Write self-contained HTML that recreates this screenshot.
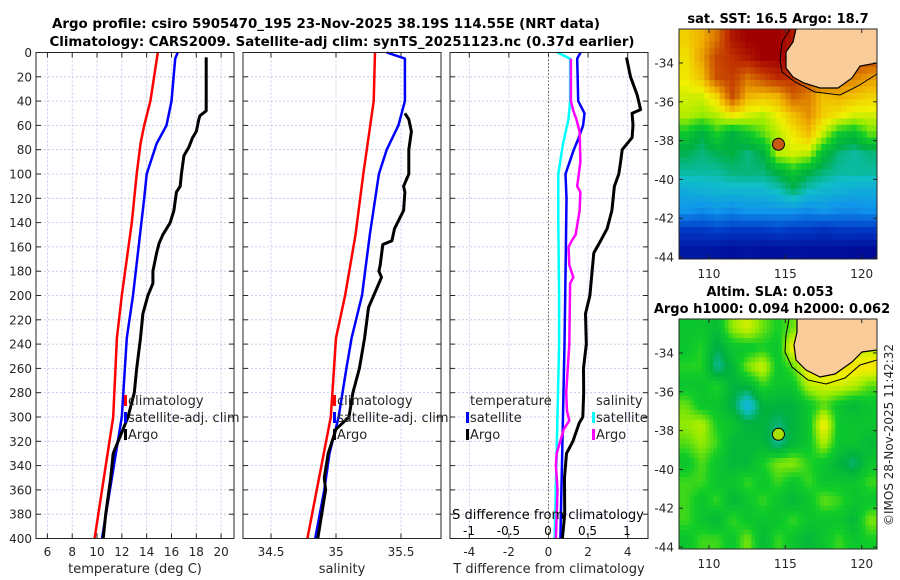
<!DOCTYPE html>
<html><head><meta charset="utf-8"><style>
html,body{margin:0;padding:0;background:#fff;}
svg{display:block;font-family:"DejaVu Sans","Liberation Sans",sans-serif;}
</style></head><body>
<svg id="fig" width="900" height="580" viewBox="0 0 900 580" xmlns="http://www.w3.org/2000/svg">
<text x="326" y="28" font-size="13" font-weight="bold" text-anchor="middle" textLength="548" lengthAdjust="spacingAndGlyphs">Argo profile: csiro 5905470_195 23-Nov-2025 38.19S 114.55E (NRT data)</text>
<text x="342" y="46" font-size="13" font-weight="bold" text-anchor="middle" textLength="585" lengthAdjust="spacingAndGlyphs">Climatology: CARS2009. Satellite-adj clim: synTS_20251123.nc (0.37d earlier)</text>
<text x="778" y="23" font-size="13" font-weight="bold" text-anchor="middle">sat. SST: 16.5 Argo: 18.7</text>
<text x="770" y="296" font-size="13" font-weight="bold" text-anchor="middle">Altim. SLA: 0.053</text>
<text x="772" y="313" font-size="13" font-weight="bold" text-anchor="middle">Argo h1000: 0.094 h2000: 0.062</text>
<text transform="translate(893,435) rotate(-90)" font-size="12" fill="#262626" text-anchor="middle">©IMOS 28-Nov-2025 11:42:32</text>
<g id="g"></g>
</svg>
<script>
// ---------- data ----------
const depthTicks=[0,20,40,60,80,100,120,140,160,180,200,220,240,260,280,300,320,340,360,380,400];
const tempTicks=[6,8,10,12,14,16,18,20];
const salTicks=[34.5,35,35.5];
const tdiffTicks=[-4,-2,0,2,4];
const sdiffTicks=[-1,-0.5,0,0.5,1];
const sdiffTickLabels=["-1","-0.5","0","0.5","1"];

const climTDepth=[0,20,40,60,75,100,140,200,235,300,400];
const climT=[14.9,14.6,14.3,13.8,13.5,13.2,12.8,12.0,11.6,11.3,9.8];
const satTDepth=[0,5,40,50,60,75,100,120,200,235,300,400];
const satT=[16.5,16.3,16.0,15.8,15.6,14.8,14.0,13.8,12.9,12.4,12.0,10.4];
const argoTDepth=[4,48,52,55,65,70,78,85,100,110,115,130,140,150,157,165,180,190,200,215,235,260,280,300,310,330,350,380,400];
const argoT=[18.8,18.8,18.3,18.2,18.0,17.7,17.4,17.0,16.8,16.7,16.4,16.2,15.9,15.3,15.0,14.8,14.5,14.5,14.1,13.7,13.5,13.2,13.0,12.5,12.1,11.3,11.1,10.7,10.5];

const climSDepth=[0,40,100,150,200,235,300,400];
const climS=[35.30,35.29,35.21,35.15,35.07,35.0,34.96,34.78];
const satSDepth=[0,5,40,60,80,100,150,200,235,260,300,330,360,400];
const satS=[35.39,35.53,35.53,35.48,35.39,35.33,35.26,35.20,35.12,35.08,35.02,34.95,34.91,34.84];
const argoSDepth=[50,55,65,80,100,110,115,130,145,155,158,175,180,185,200,210,235,260,280,300,310,330,350,360,380,400];
const argoS=[35.53,35.56,35.58,35.56,35.56,35.52,35.53,35.52,35.45,35.43,35.36,35.34,35.33,35.35,35.29,35.25,35.22,35.18,35.13,35.10,35.0,34.94,34.91,34.92,34.89,34.86];

const satSdDepth=[0,5,40,55,75,100,140,200,240,400];
const satSd=[0.12,0.28,0.28,0.26,0.19,0.13,0.13,0.14,0.14,0.085];
const satTdDepth=[0,5,40,50,60,70,80,100,120,160,240,400];
const satTd=[1.62,1.45,1.5,1.82,1.75,1.53,1.28,0.86,0.91,0.88,0.81,0.6];
const argoSdDepth=[5,40,48,55,65,90,110,115,130,150,155,160,175,185,190,240,280,295,303,310,330,340,360,400];
const argoSd=[0.29,0.29,0.32,0.36,0.40,0.41,0.37,0.41,0.40,0.35,0.30,0.26,0.27,0.32,0.28,0.27,0.23,0.24,0.27,0.20,0.11,0.10,0.12,0.10];
const argoTdDepth=[4,20,35,47,50,60,70,80,90,100,110,130,145,155,165,180,200,215,240,260,280,300,305,320,330,350,380,400];
const argoTd=[3.94,4.14,4.48,4.65,4.22,4.27,4.22,3.72,3.64,3.55,3.33,3.2,2.96,2.63,2.29,2.2,2.09,1.87,1.91,1.77,1.78,1.73,1.55,1.23,0.91,0.81,0.82,0.7];

const lonTicks=[110,115,120];
const latTicks=[-34,-36,-38,-40,-42,-44];
const sstGrid=[
[.68,.72,.8,.95,1,1,1,.95,.9,.9,.9,.9,.9],
[.66,.74,.86,.9,.95,1,1,.95,.9,.9,.9,.9,.85],
[.65,.7,.85,.88,.8,.86,.92,.9,.85,.85,.8,.78,.75],
[.62,.62,.68,.85,.72,.7,.72,.82,.78,.7,.72,.7,.68],
[.6,.58,.6,.65,.62,.6,.64,.7,.76,.68,.65,.62,.62],
[.5,.45,.52,.45,.5,.55,.6,.65,.7,.6,.5,.48,.55],
[.44,.42,.44,.45,.42,.45,.6,.62,.6,.48,.42,.4,.42],
[.4,.4,.4,.42,.42,.42,.45,.5,.45,.42,.4,.4,.4],
[.34,.35,.36,.36,.36,.36,.38,.42,.38,.36,.35,.34,.34],
[.3,.28,.3,.28,.3,.3,.3,.3,.28,.3,.28,.28,.29],
[.14,.14,.16,.14,.14,.14,.16,.14,.14,.12,.14,.14,.14],
[.06,.06,.05,.04,.05,.04,.04,.05,.04,.04,.04,.03,.03]];
const slaGrid=[
[.5,.5,.48,.58,.62,.56,.52,.56,.6,.6,.6,.6,.6],
[.5,.53,.44,.5,.5,.52,.5,.66,.6,.6,.6,.6,.6],
[.53,.53,.4,.47,.57,.62,.5,.55,.66,.66,.66,.66,.66],
[.5,.5,.53,.46,.46,.53,.5,.5,.6,.62,.62,.6,.55],
[.56,.5,.5,.45,.34,.46,.46,.46,.5,.55,.5,.47,.5],
[.58,.6,.52,.5,.46,.46,.42,.46,.5,.66,.5,.5,.5],
[.55,.58,.54,.47,.47,.47,.4,.47,.5,.6,.5,.5,.47],
[.5,.55,.5,.47,.47,.52,.57,.58,.53,.5,.46,.42,.5],
[.54,.54,.5,.5,.54,.5,.54,.5,.54,.5,.5,.5,.54],
[.54,.5,.54,.47,.5,.54,.5,.47,.5,.56,.54,.5,.5],
[.54,.5,.47,.54,.5,.5,.5,.54,.5,.5,.5,.47,.57],
[.5,.54,.54,.5,.57,.47,.54,.5,.47,.5,.54,.5,.52]];
const argoLon=114.55, argoLat=-38.19;

// ---------- helpers ----------
const NS="http://www.w3.org/2000/svg";
const G=document.getElementById('g');
function mk(tag,attrs,parent){const e=document.createElementNS(NS,tag);for(const k in attrs)e.setAttribute(k,attrs[k]);(parent||G).appendChild(e);return e;}
const Y0=52.5,Y1=538.5;
const yD=d=>Y0+(d/400)*(Y1-Y0);
function lin(d0,d1,r0,r1){return v=>r0+(v-d0)/(d1-d0)*(r1-r0);}

function panel(name,x0,x1,xs,ticks,tickLabels,xlabel,showY){
  const g=mk('g',{});
  
  
  ticks.forEach(t=>{const l=mk('line',{x1:xs(t),x2:xs(t),y1:Y0,y2:Y1,stroke:'#b8c0e8','stroke-width':0.8,'stroke-dasharray':'2,2'},g);
    });
  depthTicks.forEach(d=>{if(d===0||d===400)return;const l=mk('line',{x1:x0,x2:x1,y1:yD(d),y2:yD(d),stroke:'#b8c0e8','stroke-width':0.8,'stroke-dasharray':'2,2'},g);
    });
  ticks.forEach((t,i)=>{
    mk('line',{x1:xs(t),x2:xs(t),y1:Y1,y2:Y1-5,stroke:'#262626','stroke-width':1},g);
    mk('line',{x1:xs(t),x2:xs(t),y1:Y0,y2:Y0+5,stroke:'#262626','stroke-width':1},g);
    const tx=mk('text',{x:xs(t),y:556,'font-size':12,fill:'#262626','text-anchor':'middle'},g);
    
    tx.textContent=tickLabels?tickLabels[i]:String(t);
  });
  depthTicks.forEach(d=>{
    mk('line',{x1:x0,x2:x0+5,y1:yD(d),y2:yD(d),stroke:'#262626','stroke-width':1},g);
    mk('line',{x1:x1,x2:x1-5,y1:yD(d),y2:yD(d),stroke:'#262626','stroke-width':1},g);
    if(showY){const tx=mk('text',{x:x0-4,y:yD(d)+4.5,'font-size':12,fill:'#262626','text-anchor':'end'},g);
      tx.textContent=d;}
  });
  const xl=mk('text',{x:(x0+x1)/2,y:573,'font-size':13,fill:'#262626','text-anchor':'middle'},g);
  xl.textContent=xlabel;
  return g;
}
function frame(x0,x1,g){const r=mk('rect',{x:x0,y:Y0,width:x1-x0,height:Y1-Y0,fill:'none',stroke:'#262626','stroke-width':1},g);
  }
function series(g,name,vals,depths,xs,color,w){
  const pts=vals.map((v,i)=>xs(v).toFixed(1)+','+yD(depths[i]).toFixed(1)).join(' ');
  const p=mk('polyline',{points:pts,fill:'none',stroke:color,'stroke-width':w,'stroke-linejoin':'round'},g);
  
}
function legend(g,name,x,y,color,label){
  const m=mk('rect',{x:x-4,y:y-10,width:3,height:11,fill:color},g);
  
  const t=mk('text',{x:x,y:y,'font-size':13,fill:'#262626'},g);
  t.textContent=label;
}

// panel 1: temperature
const xT=lin(5,21,35,233.5);
const p1=panel('temperature-panel',36,234,xT,tempTicks,null,'temperature (deg C)',true);
series(p1,'climatology-temperature-line',climT,climTDepth,xT,'#ff0000',2.5);
series(p1,'satellite-temperature-line',satT,satTDepth,xT,'#0000ff',2.5);
series(p1,'argo-temperature-line',argoT,argoTDepth,xT,'#000000',3);
frame(36,234,p1);
legend(p1,'legend-climatology',128,405,'#ff0000','climatology');
legend(p1,'legend-satellite-adj',128,422,'#0000ff','satellite-adj. clim');
legend(p1,'legend-argo',128,439,'#000000','Argo');

// panel 2: salinity
const xS=lin(34.5,35.5,271,401);
const p2=panel('salinity-panel',243,441,xS,salTicks,null,'salinity',false);
series(p2,'climatology-salinity-line',climS,climSDepth,xS,'#ff0000',2.5);
series(p2,'satellite-salinity-line',satS,satSDepth,xS,'#0000ff',2.5);
series(p2,'argo-salinity-line',argoS,argoSDepth,xS,'#000000',3);
frame(243,441,p2);
legend(p2,'legend-climatology-s',337,405,'#ff0000','climatology');
legend(p2,'legend-satellite-adj-s',337,422,'#0000ff','satellite-adj. clim');
legend(p2,'legend-argo-s',337,439,'#000000','Argo');

// panel 3: differences
const xTd=lin(-5,5,449.5,647.5);
const xSd=lin(-1,1,469,627);
const p3=panel('difference-panel',450,648,xTd,tdiffTicks,null,'T difference from climatology',false);
mk('line',{x1:xTd(0),x2:xTd(0),y1:Y0,y2:Y1,stroke:'#6b6b3a','stroke-width':1,'stroke-dasharray':'1.5,2'},p3);
series(p3,'satellite-s-diff-line',satSd,satSdDepth,xSd,'#00ffff',2.5);
series(p3,'satellite-t-diff-line',satTd,satTdDepth,xTd,'#0000ff',2.5);
series(p3,'argo-s-diff-line',argoSd,argoSdDepth,xSd,'#ff00ff',2.5);
series(p3,'argo-t-diff-line',argoTd,argoTdDepth,xTd,'#000000',3);
frame(450,648,p3);
sdiffTicks.forEach((t,i)=>{const tx=mk('text',{x:xSd(t),y:535,'font-size':12,fill:'#000','text-anchor':'middle'},p3);
  tx.textContent=sdiffTickLabels[i];});
{const tx=mk('text',{x:548,y:519,'font-size':13,fill:'#000','text-anchor':'middle'},p3);
 tx.textContent='S difference from climatology';}
{const tx=mk('text',{x:470,y:405,'font-size':13,fill:'#262626'},p3);
 tx.textContent='temperature';}
{const tx=mk('text',{x:596,y:405,'font-size':13,fill:'#262626'},p3);
 tx.textContent='salinity';}
legend(p3,'legend-t-satellite',470,422,'#0000ff','satellite');
legend(p3,'legend-t-argo',470,439,'#000000','Argo');
legend(p3,'legend-s-satellite',596,422,'#00ffff','satellite');
legend(p3,'legend-s-argo',596,439,'#ff00ff','Argo');

// ---------- maps ----------
const stops=[[0,[0,0,140]],[.15,[0,60,200]],[.3,[16,150,235]],[.38,[16,190,200]],[.45,[0,176,64]],[.52,[16,205,40]],[.58,[150,235,0]],[.64,[240,240,0]],[.72,[240,176,0]],[.82,[208,96,0]],[.9,[192,48,0]],[1,[160,0,0]]];
function cmap(v){v=Math.max(0,Math.min(1,v));for(let i=1;i<stops.length;i++){if(v<=stops[i][0]){const a=stops[i-1],b=stops[i],f=(v-a[0])/(b[0]-a[0]);
  const c=a[1].map((x,k)=>Math.round(x+(b[1][k]-x)*f));return 'rgb('+c.join(',')+')';}}return 'rgb(160,0,0)';}
function sample(grid,fy,fx){
  const rows=grid.length,cols=grid[0].length;
  const y=Math.max(0,Math.min(rows-1,fy-0.5)),x=Math.max(0,Math.min(cols-1,fx-0.5));
  const y0=Math.floor(y),x0=Math.floor(x),y1=Math.min(rows-1,y0+1),x1=Math.min(cols-1,x0+1),ty=y-y0,tx=x-x0;
  return (grid[y0][x0]*(1-tx)+grid[y0][x1]*tx)*(1-ty)+(grid[y1][x0]*(1-tx)+grid[y1][x1]*tx)*ty;
}
function map(name,top,grid,sub,dotColor,land,coast,coast2){
  const mx0=679,mx1=877,my1=top+230;
  const lonS=lin(108.04,121,mx0,mx1);
  const latS=lin(-32.25,-44.1,top,my1);
  const g=mk('g',{});
  
  const rows=grid.length*sub,cols=grid[0].length*sub,cw=(mx1-mx0)/cols,ch=(my1-top)/rows;
  for(let r=0;r<rows;r++)for(let c=0;c<cols;c++){
    const v=sample(grid,(r+0.5)/sub,(c+0.5)/sub);
    const cell=mk('rect',{x:mx0+c*cw,y:top+r*ch,width:cw+0.5,height:ch+0.5,fill:cmap(v)},g);
    
  }
  const l=mk('path',{d:land,fill:'#f9cc9a',stroke:'none'},g);
  mk('path',{d:coast,fill:'none',stroke:'#000','stroke-width':1.2},g);
  if(coast2)mk('path',{d:coast2,fill:'none',stroke:'#000','stroke-width':1},g);
  const dot=mk('circle',{cx:lonS(argoLon),cy:latS(argoLat),r:6,fill:dotColor,stroke:'#000','stroke-width':1},g);
  
  mk('rect',{x:mx0,y:top,width:mx1-mx0,height:my1-top,fill:'none',stroke:'#262626','stroke-width':1},g);
  lonTicks.forEach(t=>{mk('line',{x1:lonS(t),x2:lonS(t),y1:my1,y2:my1-4,stroke:'#262626'},g);
    mk('line',{x1:lonS(t),x2:lonS(t),y1:top,y2:top+4,stroke:'#262626'},g);
    const tx=mk('text',{x:lonS(t),y:my1+19,'font-size':12,fill:'#262626','text-anchor':'middle'},g);
    tx.textContent=t;});
  latTicks.forEach(t=>{mk('line',{x1:mx0,x2:mx0+4,y1:latS(t),y2:latS(t),stroke:'#262626'},g);
    mk('line',{x1:mx1,x2:mx1-4,y1:latS(t),y2:latS(t),stroke:'#262626'},g);
    const tx=mk('text',{x:mx0-5,y:latS(t)+4.5,'font-size':12,fill:'#262626','text-anchor':'end'},g);
    tx.textContent=t;});
}
map('sst-map',29,sstGrid,3,'#c85a10',
 'M796,29 L877,29 L877,63 L860,66 L852,78 L838,88 L820,88 L804,83 L793,77 L786,68 L786,52 L793,42 Z',
 'M796,29 L793,42 L786,52 L786,68 L793,77 L804,83 L820,88 L838,88 L852,78 L860,66 L877,63',
 'M790,29 L782,42 L780,60 L782,72 L795,82 L815,92 L840,95 L858,86 L877,74');
map('sla-map',319,slaGrid,4,'#a8e000',
 'M797,319 L877,319 L877,350 L862,352 L852,362 L835,374 L820,377 L806,370 L796,360 L794,345 L797,332 Z',
 'M797,319 L797,332 L794,345 L796,360 L806,370 L820,377 L835,374 L852,362 L862,352 L877,350',
 'M789,319 L786,335 L785,352 L792,367 L808,380 L826,384 L845,378 L860,365 L877,360');
</script>
</body></html>
